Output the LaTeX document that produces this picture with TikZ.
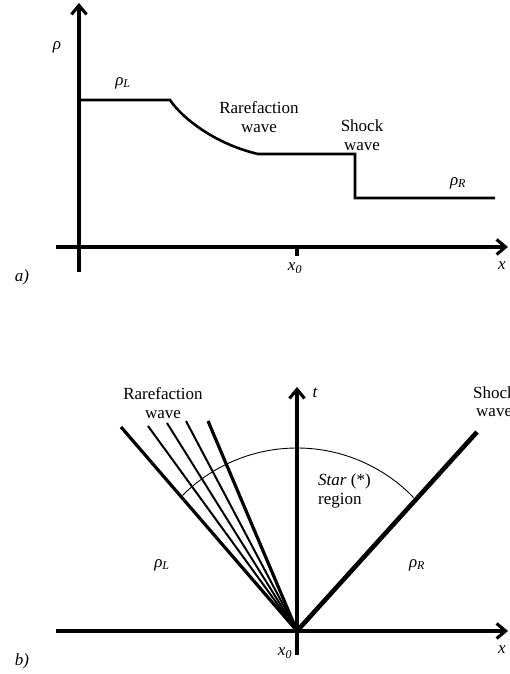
\documentclass[tikz,border=0pt]{standalone}
\usepackage{fontspec}
\setmainfont{Liberation Serif}
\usetikzlibrary{arrows.meta,calc}
\begin{document}
\begin{tikzpicture}[x=1pt,y=1pt,
  axis/.style={line width=3.1pt,-{Straight Barb[length=9pt,width=15pt,line width=3.1pt]}},
  plain/.style={line width=3.1pt},
  prof/.style={line width=2.6pt,line join=miter},
  fan/.style={line width=2pt},
  fanb/.style={line width=3.2pt},
  shk/.style={line width=4.6pt},
  lbl/.style={font=\fontsize{17}{19}\selectfont,inner sep=0pt,align=center},
  sublbl/.style={font=\fontsize{17}{19}\selectfont\itshape,inner sep=0pt}]
\useasboundingbox (0,0) rectangle (509,674);
% ---------- panel a ----------
\coordinate (ya0) at (79,402);
\coordinate (ya1) at (79,671);
\coordinate (xa0) at (56,427);
\coordinate (xa1) at (508,427);
\draw[plain] (ya0) -- (79,660);
\draw[axis] (79,600) -- (ya1);
\draw[plain] (xa0) -- (490,427);
\draw[axis] (480,427) -- (xa1);
\coordinate (p0) at (79,574);
\coordinate (p1) at (170,574);
\coordinate (p2) at (258,520);
\coordinate (p3) at (355,520);
\coordinate (p4) at (355,476);
\coordinate (p5) at (495,476);
\draw[prof] (p0) -- (p1) .. controls (182,556) and (215,530) .. (p2) -- (p3) -- (p4) -- (p5);
\coordinate (tk0) at (297,427);
\coordinate (tk1) at (297,418);
\draw[plain] (tk0) -- (tk1);
\node[sublbl] (rho) at (57,627) {ρ};
\node[sublbl] (rhoLa) at (123,591) {ρ\textsubscript{\fontsize{12}{12}\selectfont L}};
\node[lbl] (rara) at (259,557) {Rarefaction\\wave};
\node[lbl] (shka) at (362,539) {Shock\\wave};
\node[sublbl] (rhoRa) at (458,491) {ρ\textsubscript{\fontsize{12}{12}\selectfont R}};
\node[sublbl] (x0a) at (295,406) {x\textsubscript{\fontsize{12}{12}\selectfont 0}};
\node[sublbl] (xa) at (502,408) {x};
\node[sublbl] (la) at (22,397) {a)};
% ---------- panel b ----------
\coordinate (O) at (297,43);
\coordinate (xb0) at (56,43);
\coordinate (xb1) at (508,43);
\coordinate (tb0) at (297,19);
\coordinate (tb1) at (297,287);
\draw[plain] (xb0) -- (490,43);
\draw[axis] (480,43) -- (xb1);
\draw[plain] (tb0) -- (297,270);
\draw[axis] (297,240) -- (tb1);
\coordinate (r1) at (121,247);
\coordinate (r2) at (148,248);
\coordinate (r3) at (167,251);
\coordinate (r4) at (186,253);
\coordinate (r5) at (208,253);
\coordinate (sh) at (477,242);
\draw[fanb] (O) -- (r1);
\draw[fan] (O) -- (r2);
\draw[fan] (O) -- (r3);
\draw[fan] (O) -- (r4);
\draw[fanb] (O) -- (r5);
\draw[shk] (O) -- (sh);
\coordinate (ac) at (297,64);
\coordinate (arcs) at ($(ac)+(135:162)$);
\draw[line width=0.9pt] (arcs) arc[start angle=135,end angle=44,radius=162pt];
\node[lbl] (rarb) at (163,271) {Rarefaction\\wave};
\node[lbl,anchor=west] (shkb1) at (473,281) {Shock};
\node[lbl,anchor=west] (shkb2) at (476,261) {wave};
\node[lbl,anchor=west,align=left] (star) at (318,183) {\textit{Star} (*)\\region};
\node[sublbl] (rhoLb) at (162,109) {ρ\textsubscript{\fontsize{12}{12}\selectfont L}};
\node[sublbl] (rhoRb) at (417,109) {ρ\textsubscript{\fontsize{12}{12}\selectfont R}};
\node[sublbl] (tl) at (315,281) {t};
\node[sublbl] (x0b) at (285,21) {x\textsubscript{\fontsize{12}{12}\selectfont 0}};
\node[sublbl] (xb) at (502,24) {x};
\node[sublbl] (lb) at (22,13) {b)};
\end{tikzpicture}
\end{document}
